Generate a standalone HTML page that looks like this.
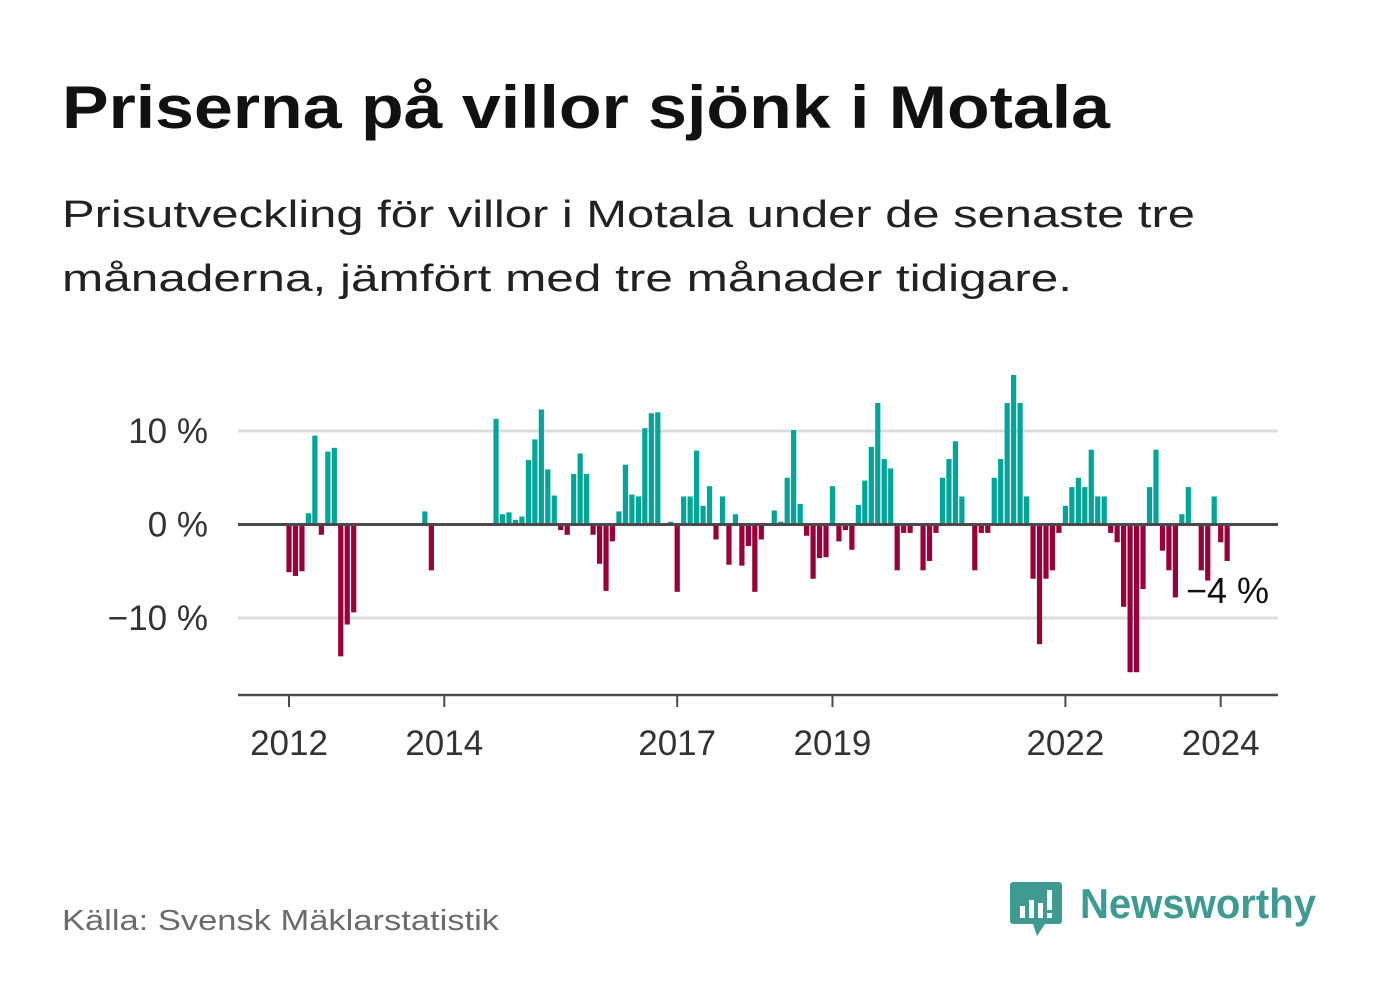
<!DOCTYPE html>
<html><head><meta charset="utf-8"><style>
html,body{margin:0;padding:0;background:#fff;}
svg{display:block;font-family:"Liberation Sans",sans-serif;}
</style></head><body>
<svg id="chart" width="1382" height="999" viewBox="0 0 1382 999">
<text x="62" y="128" font-size="60" font-weight="bold" fill="#111" textLength="1048" lengthAdjust="spacingAndGlyphs">Priserna på villor sjönk i Motala</text>
<text x="62" y="227" font-size="38" fill="#222" textLength="1133" lengthAdjust="spacingAndGlyphs">Prisutveckling för villor i Motala under de senaste tre</text>
<text x="62" y="291" font-size="38" fill="#222" textLength="1010" lengthAdjust="spacingAndGlyphs">månaderna, jämfört med tre månader tidigare.</text>
<g id="grid"></g>
<g id="bars"></g>
<g id="axes"></g>
<text x="1186" y="603" font-size="36" fill="#111">−4 %</text>
<text x="62" y="930" font-size="29" fill="#6b6b6b" textLength="437" lengthAdjust="spacingAndGlyphs">Källa: Svensk Mäklarstatistik</text>
<g>
<path d="M1013 882 h46 a3 3 0 0 1 3 3 v36 a3 3 0 0 1 -3 3 h-14 l-8 12 l-4 -12 h-20 a3 3 0 0 1 -3 -3 v-36 a3 3 0 0 1 3 -3z" fill="#3f9a92"/>
<rect x="1020" y="906" width="5" height="12" fill="#fff"/>
<rect x="1029" y="900" width="5" height="18" fill="#fff"/>
<rect x="1038" y="903" width="5" height="15" fill="#fff"/>
<rect x="1047" y="890" width="5" height="20" fill="#fff"/>
<rect x="1047" y="913" width="5" height="5" fill="#fff"/>
<text x="1080" y="918" font-size="42" font-weight="bold" fill="#3f9a92" textLength="236" lengthAdjust="spacingAndGlyphs">Newsworthy</text>
</g>
</svg>
<script>
const startYear = 2012;
const values = [
-5.1,-5.5,-5.0,1.2,9.5,-1.1,7.8,8.2,-14.1,-10.7,-9.4,
0,0,0,0,0,0,0,0,0,0,
1.4,-4.9,
0,0,0,0,0,0,0,0,0,
11.3,1.1,1.3,0.5,0.85,6.9,9.1,12.3,5.9,3.1,-0.6,-1.1,5.4,7.6,5.4,-1.1,-4.2,-7.1,
-1.8,1.4,6.4,3.2,3.0,10.3,11.9,12.0,
0,
0.3,-7.2,3.0,3.0,7.9,2.0,4.1,-1.6,3.0,-4.3,1.1,-4.4,-2.3,-7.2,-1.6,
0,
1.5,0.3,5.0,10.1,2.2,-1.2,-5.8,-3.6,-3.5,4.1,-1.8,-0.6,-2.7,2.1,4.7,8.3,13.0,7.0,6.0,-4.9,-0.9,-0.9,
0,
-4.9,-3.9,-0.9,5.0,7.0,8.9,3.0,
0,
-4.9,-0.9,-0.9,5.0,7.0,13.0,16.0,13.0,3.0,-5.8,-12.8,-5.8,-4.9,-0.9,2.0,4.0,5.0,4.0,8.0,3.0,3.0,-0.9,-1.9,-8.8,-15.8,-15.8,-6.9,
4.0,8.0,-2.8,-4.9,-7.8,1.1,4.0,
0,
-4.9,-6.0,3.0,-1.9,-3.9
];
const yTicks = [10, 0, -10];
const yTickLabels = ["10 %", "0 %", "−10 %"];
const xTickYears = [2012, 2014, 2017, 2019, 2022, 2024];

const NS = "http://www.w3.org/2000/svg";
const x0 = 289, monthW = 6.47;
const y0 = 524.5, pxPer = 9.35;
function xScale(m){ return x0 + m * monthW; }
function yScale(v){ return y0 - v * pxPer; }
function mk(tag, attrs){ const e = document.createElementNS(NS, tag); for (const k in attrs) e.setAttribute(k, attrs[k]); return e; }

const grid = document.getElementById('grid');
yTicks.forEach((t, i) => {
  if (t !== 0) {
    const l = mk('line', {x1:238, x2:1278, y1:yScale(t), y2:yScale(t), stroke:'#dddddd', 'stroke-width':3});
    
    
    grid.appendChild(l);
  }
  const tx = mk('text', {x:208, y:yScale(t)+12, 'font-size':35, fill:'#333', 'text-anchor':'end'});
  tx.textContent = yTickLabels[i];
  
  
  grid.appendChild(tx);
});

const bars = document.getElementById('bars');
values.forEach((v, m) => {
  if (v === 0) return;
  const cx = xScale(m);
  const y = v > 0 ? yScale(v) : y0;
  const h = Math.abs(yScale(v) - y0);
  const r = mk('rect', {x:cx-2.6, y:y, width:5.2, height:h, fill: v > 0 ? '#00a59a' : '#98003a'});
  
  
  bars.appendChild(r);
});

const axes = document.getElementById('axes');
const zl = mk('line', {x1:238, x2:1278, y1:y0, y2:y0, stroke:'#4a4a4a', 'stroke-width':3});


axes.appendChild(zl);
const xl = mk('line', {x1:238, x2:1278, y1:695, y2:695, stroke:'#4a4a4a', 'stroke-width':2.5});


axes.appendChild(xl);
xTickYears.forEach(yr => {
  const x = xScale((yr - startYear) * 12);
  const tk = mk('line', {x1:x, x2:x, y1:695, y2:707, stroke:'#4a4a4a', 'stroke-width':2});
  
  
  axes.appendChild(tk);
  const tl = mk('text', {x:x, y:755, 'font-size':35, fill:'#333', 'text-anchor':'middle'});
  tl.textContent = yr;
  
  
  axes.appendChild(tl);
});
</script>
</body></html>
